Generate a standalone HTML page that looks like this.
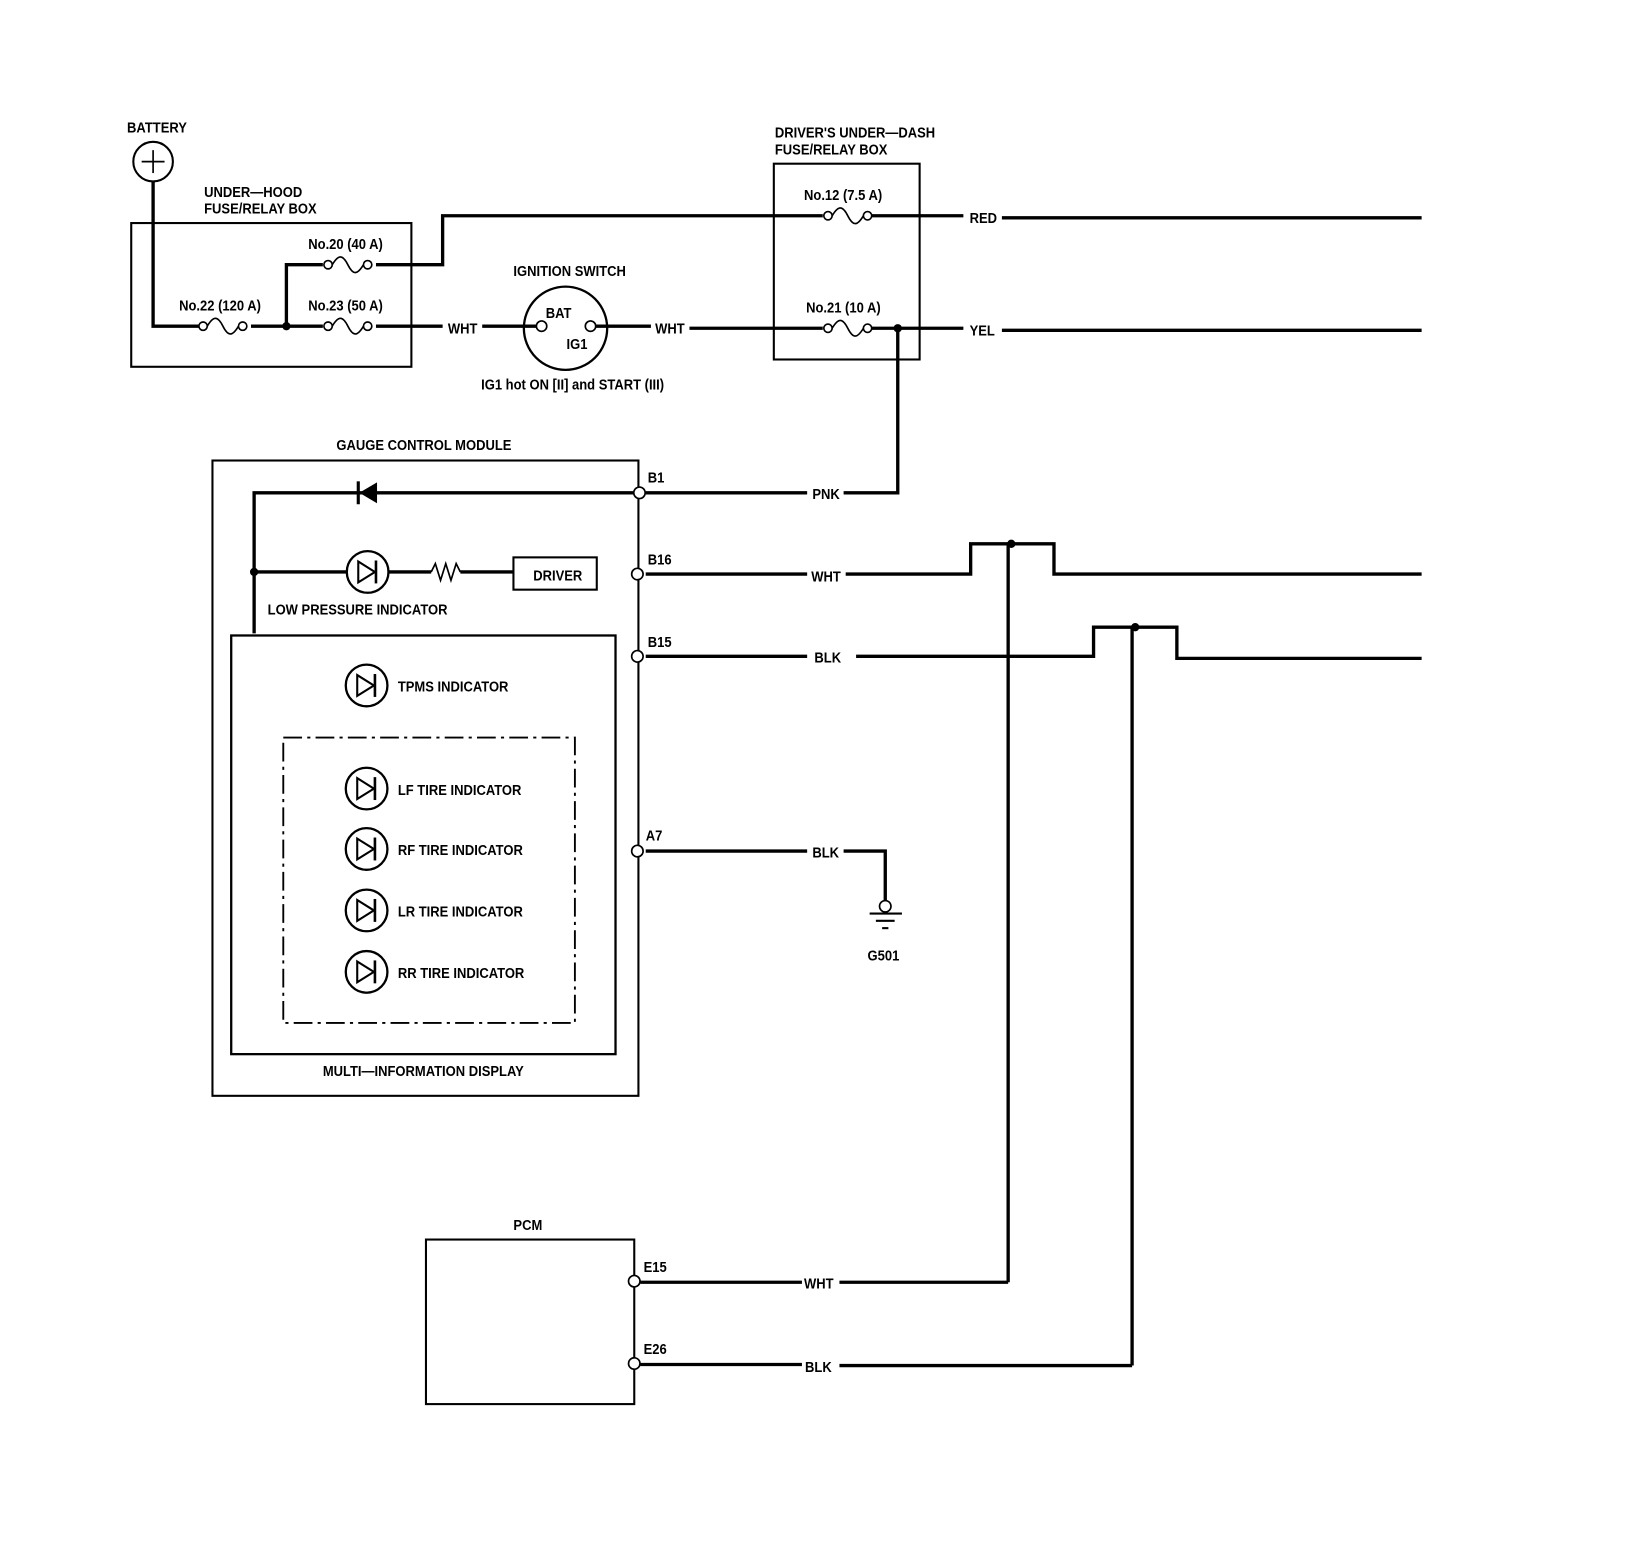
<!DOCTYPE html>
<html><head><meta charset="utf-8"><style>
html,body{margin:0;padding:0;background:#fff;}
svg{display:block;}
text{font-family:"Liberation Sans Narrow","Liberation Sans",sans-serif;font-weight:bold;font-size:14.5px;fill:#000;transform-box:fill-box;transform-origin:left center;transform:scaleX(0.86);}
</style></head><body>
<svg width="1632" height="1548" viewBox="0 0 1567 1486" xmlns="http://www.w3.org/2000/svg">
<defs>
<g id="fuse"><circle cx="4" cy="0" r="4" fill="#fff" stroke="#000" stroke-width="1.6"/><path d="M8,0 C14,-10 18,-10 23,0 S32,10 38,0" fill="none" stroke="#000" stroke-width="1.6"/><circle cx="42" cy="0" r="4" fill="#fff" stroke="#000" stroke-width="1.6"/></g>
<g id="led"><circle cx="0" cy="0" r="20" fill="#fff" stroke="#000" stroke-width="2.2"/><path d="M-9,-10 L7,0 L-9,10 Z" fill="none" stroke="#000" stroke-width="2"/><line x1="8" y1="-11" x2="8" y2="11" stroke="#000" stroke-width="2.5"/></g>
</defs>
<g fill="none" stroke="#000">
<circle cx="147" cy="155" r="19" stroke-width="2"/>
<line x1="136" y1="155" x2="158" y2="155" stroke-width="1.6"/><line x1="147" y1="144" x2="147" y2="166" stroke-width="1.6"/>
<rect x="126" y="214" width="269" height="138" stroke-width="2"/>
<rect x="743" y="157" width="140" height="188" stroke-width="2"/>
<rect x="204" y="442" width="409" height="610" stroke-width="2"/>
<rect x="222" y="610" width="369" height="402" stroke-width="2.2"/>
<rect x="272" y="708" width="280" height="274" stroke-width="1.8" stroke-dasharray="18,5,3,5"/>
<rect x="493" y="535" width="80" height="31" stroke-width="2"/>
<rect x="409" y="1190" width="200" height="158" stroke-width="2"/>
<g stroke-width="3.2">
<polyline points="147,174 147,313 193,313"/>
<polyline points="241,313 310,313"/>
<polyline points="275,313 275,254 310,254"/>
<polyline points="361,254 425,254 425,207 790,207"/>
<line x1="361" y1="313" x2="425" y2="313"/>
<line x1="463" y1="313" x2="516" y2="313"/>
<line x1="571" y1="313" x2="625" y2="313"/>
<line x1="662" y1="315" x2="790" y2="315"/>
<line x1="836" y1="207" x2="925" y2="207"/>
<line x1="962" y1="209" x2="1365" y2="209"/>
<line x1="836" y1="315" x2="925" y2="315"/>
<line x1="962" y1="317" x2="1365" y2="317"/>
<polyline points="862,315 862,473 810,473"/>
<line x1="620" y1="473" x2="775" y2="473"/>
<line x1="620" y1="551" x2="775" y2="551"/>
<polyline points="812,551 932,551 932,522 1012,522 1012,551 1365,551"/>
<line x1="620" y1="630" x2="775" y2="630"/>
<polyline points="822,630 1050,630 1050,602 1130,602 1130,632 1365,632"/>
<line x1="968" y1="522" x2="968" y2="1231"/>
<line x1="1087" y1="602" x2="1087" y2="1311"/>
<line x1="620" y1="817" x2="775" y2="817"/>
<polyline points="810,817 850,817 850,866"/>
<line x1="615" y1="1231" x2="770" y2="1231"/>
<line x1="806" y1="1231" x2="968" y2="1231"/>
<line x1="615" y1="1310" x2="770" y2="1310"/>
<line x1="806" y1="1311" x2="1087" y2="1311"/>
<polyline points="608,473 244,473 244,608"/>
<line x1="244" y1="549" x2="333" y2="549"/>
<line x1="373" y1="549" x2="414" y2="549"/>
<line x1="442" y1="549" x2="493" y2="549"/>
</g>
<polyline points="414,549 418,541 423,557 428,541 433,557 438,541 442,549" stroke-width="1.6"/>
<circle cx="543" cy="315" r="40" stroke-width="2.2"/>
<line x1="835" y1="877" x2="866" y2="877" stroke-width="2"/>
<line x1="841" y1="884" x2="859" y2="884" stroke-width="2"/>
<line x1="847" y1="891" x2="853" y2="891" stroke-width="2"/>
</g>
<path d="M345,473 L362,463 L362,483 Z" fill="#000"/>
<line x1="344" y1="462" x2="344" y2="484" stroke="#000" stroke-width="3"/>
<use href="#fuse" x="191" y="313"/>
<use href="#fuse" x="311" y="313"/>
<use href="#fuse" x="311" y="254"/>
<use href="#fuse" x="791" y="207"/>
<use href="#fuse" x="791" y="315"/>
<circle cx="520" cy="313" r="5" fill="#fff" stroke="#000" stroke-width="1.6"/>
<circle cx="567" cy="313" r="5" fill="#fff" stroke="#000" stroke-width="1.6"/>
<use href="#led" x="353" y="549"/>
<use href="#led" x="352" y="658"/>
<use href="#led" x="352" y="757"/>
<use href="#led" x="352" y="815"/>
<use href="#led" x="352" y="874"/>
<use href="#led" x="352" y="933"/>
<g fill="#fff" stroke="#000" stroke-width="1.6">
<circle cx="614" cy="473" r="5.5"/><circle cx="612" cy="551" r="5.5"/><circle cx="612" cy="630" r="5.5"/><circle cx="612" cy="817" r="5.5"/>
<circle cx="609" cy="1230" r="5.5"/><circle cx="609" cy="1309" r="5.5"/>
<circle cx="850" cy="870" r="5.5"/>
</g>
<g fill="#000"><circle cx="275" cy="313" r="4"/><circle cx="862" cy="315" r="4"/><circle cx="244" cy="549" r="4"/><circle cx="971" cy="522" r="4"/><circle cx="1090" cy="602" r="4"/></g>
<text x="122" y="127">BATTERY</text>
<text x="196" y="189">UNDER—HOOD</text>
<text x="196" y="205">FUSE/RELAY BOX</text>
<text x="296" y="239">No.20 (40 A)</text>
<text x="172" y="298">No.22 (120 A)</text>
<text x="296" y="298">No.23 (50 A)</text>
<text x="430" y="320">WHT</text>
<text x="493" y="265">IGNITION SWITCH</text>
<text x="524" y="305">BAT</text>
<text x="544" y="335">IG1</text>
<text x="629" y="320">WHT</text>
<text x="462" y="374">IG1 hot ON [II] and START (III)</text>
<text x="744" y="132">DRIVER'S UNDER—DASH</text>
<text x="744" y="148">FUSE/RELAY BOX</text>
<text x="772" y="192">No.12 (7.5 A)</text>
<text x="774" y="300">No.21 (10 A)</text>
<text x="931" y="214">RED</text>
<text x="931" y="322">YEL</text>
<text x="323" y="432">GAUGE CONTROL MODULE</text>
<text x="622" y="463">B1</text>
<text x="780" y="479">PNK</text>
<text x="622" y="542">B16</text>
<text x="779" y="558">WHT</text>
<text x="622" y="621">B15</text>
<text x="782" y="636">BLK</text>
<text x="620" y="807">A7</text>
<text x="780" y="823">BLK</text>
<text x="833" y="922">G501</text>
<text x="512" y="557">DRIVER</text>
<text x="257" y="590">LOW PRESSURE INDICATOR</text>
<text x="382" y="664">TPMS INDICATOR</text>
<text x="382" y="763">LF TIRE INDICATOR</text>
<text x="382" y="821">RF TIRE INDICATOR</text>
<text x="382" y="880">LR TIRE INDICATOR</text>
<text x="382" y="939">RR TIRE INDICATOR</text>
<text x="310" y="1033">MULTI—INFORMATION DISPLAY</text>
<text x="493" y="1181">PCM</text>
<text x="618" y="1221">E15</text>
<text x="772" y="1237">WHT</text>
<text x="618" y="1300">E26</text>
<text x="773" y="1317">BLK</text>
</svg>
</body></html>
